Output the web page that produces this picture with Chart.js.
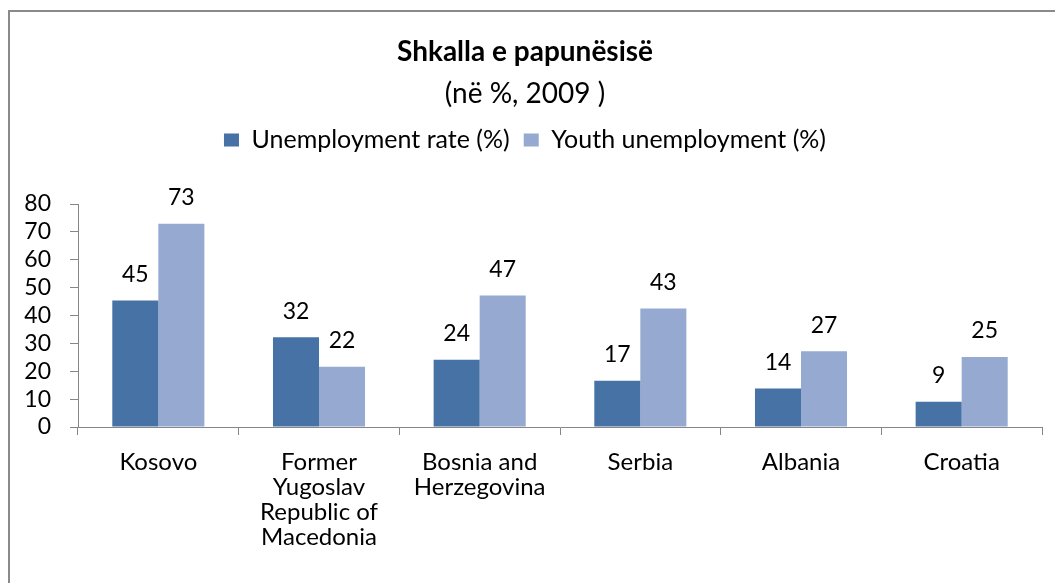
<!DOCTYPE html>
<html>
<head>
<meta charset="utf-8">
<script src="https://cdn.jsdelivr.net/npm/chart.js@4"></script>
<style>
    body { margin: 0; background: #fff; }
    #wrap { position: relative; width: 1055px; height: 583px; overflow: hidden; }
    #frame { position: absolute; left: 8px; top: 10px; width: 1100px; height: 700px;
             border-left: 2px solid #8a8a8a; border-top: 2px solid #8a8a8a; }
    #unemploymentChart { position: absolute; left: 0; top: 0; }
</style>
</head>
<body>
<div id="wrap">
    <div id="frame"></div>
    <canvas id="unemploymentChart" width="1055" height="583"></canvas>
</div>
<script>
const categories = [
    ['Kosovo'],
    ['Former', 'Yugoslav', 'Republic of', 'Macedonia'],
    ['Bosnia and', 'Herzegovina'],
    ['Serbia'],
    ['Albania'],
    ['Croatia']
];
const unemploymentRate = [45.4, 32.2, 24.1, 16.6, 13.8, 9.1];
const youthUnemployment = [72.9, 21.6, 47.2, 42.5, 27.2, 25.1];
const yTicks = [0, 10, 20, 30, 40, 50, 60, 70, 80];

const fontFamily = 'Lato, "Noto Sans", sans-serif';
const axisColor = '#868686';

// extra space between the legend and the plot
const legendMargin = {
    id: 'legendMargin',
    beforeInit(chart) {
        const fit = chart.legend.fit;
        chart.legend.fit = function () {
            fit.bind(chart.legend)();
            this.height += 41.5;
        };
    }
};

// value labels above each bar
const barLabels = {
    id: 'barLabels',
    afterDatasetsDraw(chart) {
        const ctx = chart.ctx;
        ctx.save();
        ctx.font = '23px ' + fontFamily;
        ctx.fillStyle = '#000';
        ctx.textAlign = 'center';
        ctx.textBaseline = 'middle';
        chart.data.datasets.forEach((ds, i) => {
            chart.getDatasetMeta(i).data.forEach((bar, j) => {
                ctx.fillText(Math.round(ds.data[j]), bar.x, bar.y - 26);
            });
        });
        ctx.restore();
    }
};

const ctx = document.getElementById('unemploymentChart').getContext('2d');
const unemploymentChart = new Chart(ctx, {
    type: 'bar',
    data: {
        labels: categories,
        datasets: [{
            label: 'Unemployment rate (%)',
            data: unemploymentRate,
            backgroundColor: '#4672A6',
            categoryPercentage: 0.573,
            barPercentage: 1.0
        }, {
            label: 'Youth unemployment (%)',
            data: youthUnemployment,
            backgroundColor: '#95A9D1',
            categoryPercentage: 0.573,
            barPercentage: 1.0
        }]
    },
    options: {
        responsive: false,
        animation: false,
        layout: { padding: { left: 8, right: 13, top: 0, bottom: 18 } },
        plugins: {
            title: {
                display: true,
                text: 'Shkalla e papunësisë',
                color: '#000',
                font: { family: fontFamily, size: 28, weight: 'bold' },
                padding: { top: 35.2, bottom: 8.4 }
            },
            subtitle: {
                display: true,
                text: '(në %, 2009 )',
                color: '#000',
                font: { family: fontFamily, size: 28 },
                padding: { top: 0, bottom: 2.7 }
            },
            legend: {
                position: 'top',
                labels: {
                    color: '#000',
                    font: { family: fontFamily, size: 25 },
                    boxWidth: 15,
                    boxHeight: 13,
                    padding: 14
                }
            },
            tooltip: { enabled: false }
        },
        scales: {
            x: {
                grid: { display: true, drawOnChartArea: false, drawTicks: true, tickLength: 8, color: axisColor },
                border: { color: axisColor, width: 1 },
                ticks: {
                    color: '#000',
                    font: { family: fontFamily, size: 24, lineHeight: 25 / 24 },
                    padding: 15,
                    maxRotation: 0,
                    autoSkip: false
                }
            },
            y: {
                min: yTicks[0],
                max: yTicks[yTicks.length - 1],
                afterFit(scale) { scale.width = 70; },
                afterBuildTicks(scale) { scale.ticks = yTicks.map(v => ({ value: v })); },
                grid: { display: true, drawOnChartArea: false, drawTicks: true, tickLength: 8, color: axisColor },
                border: { color: axisColor, width: 1 },
                ticks: {
                    color: '#000',
                    font: { family: fontFamily, size: 23 },
                    padding: 19,
                    autoSkip: false
                }
            }
        }
    },
    plugins: [legendMargin, barLabels]
});
</script>
</body>
</html>
